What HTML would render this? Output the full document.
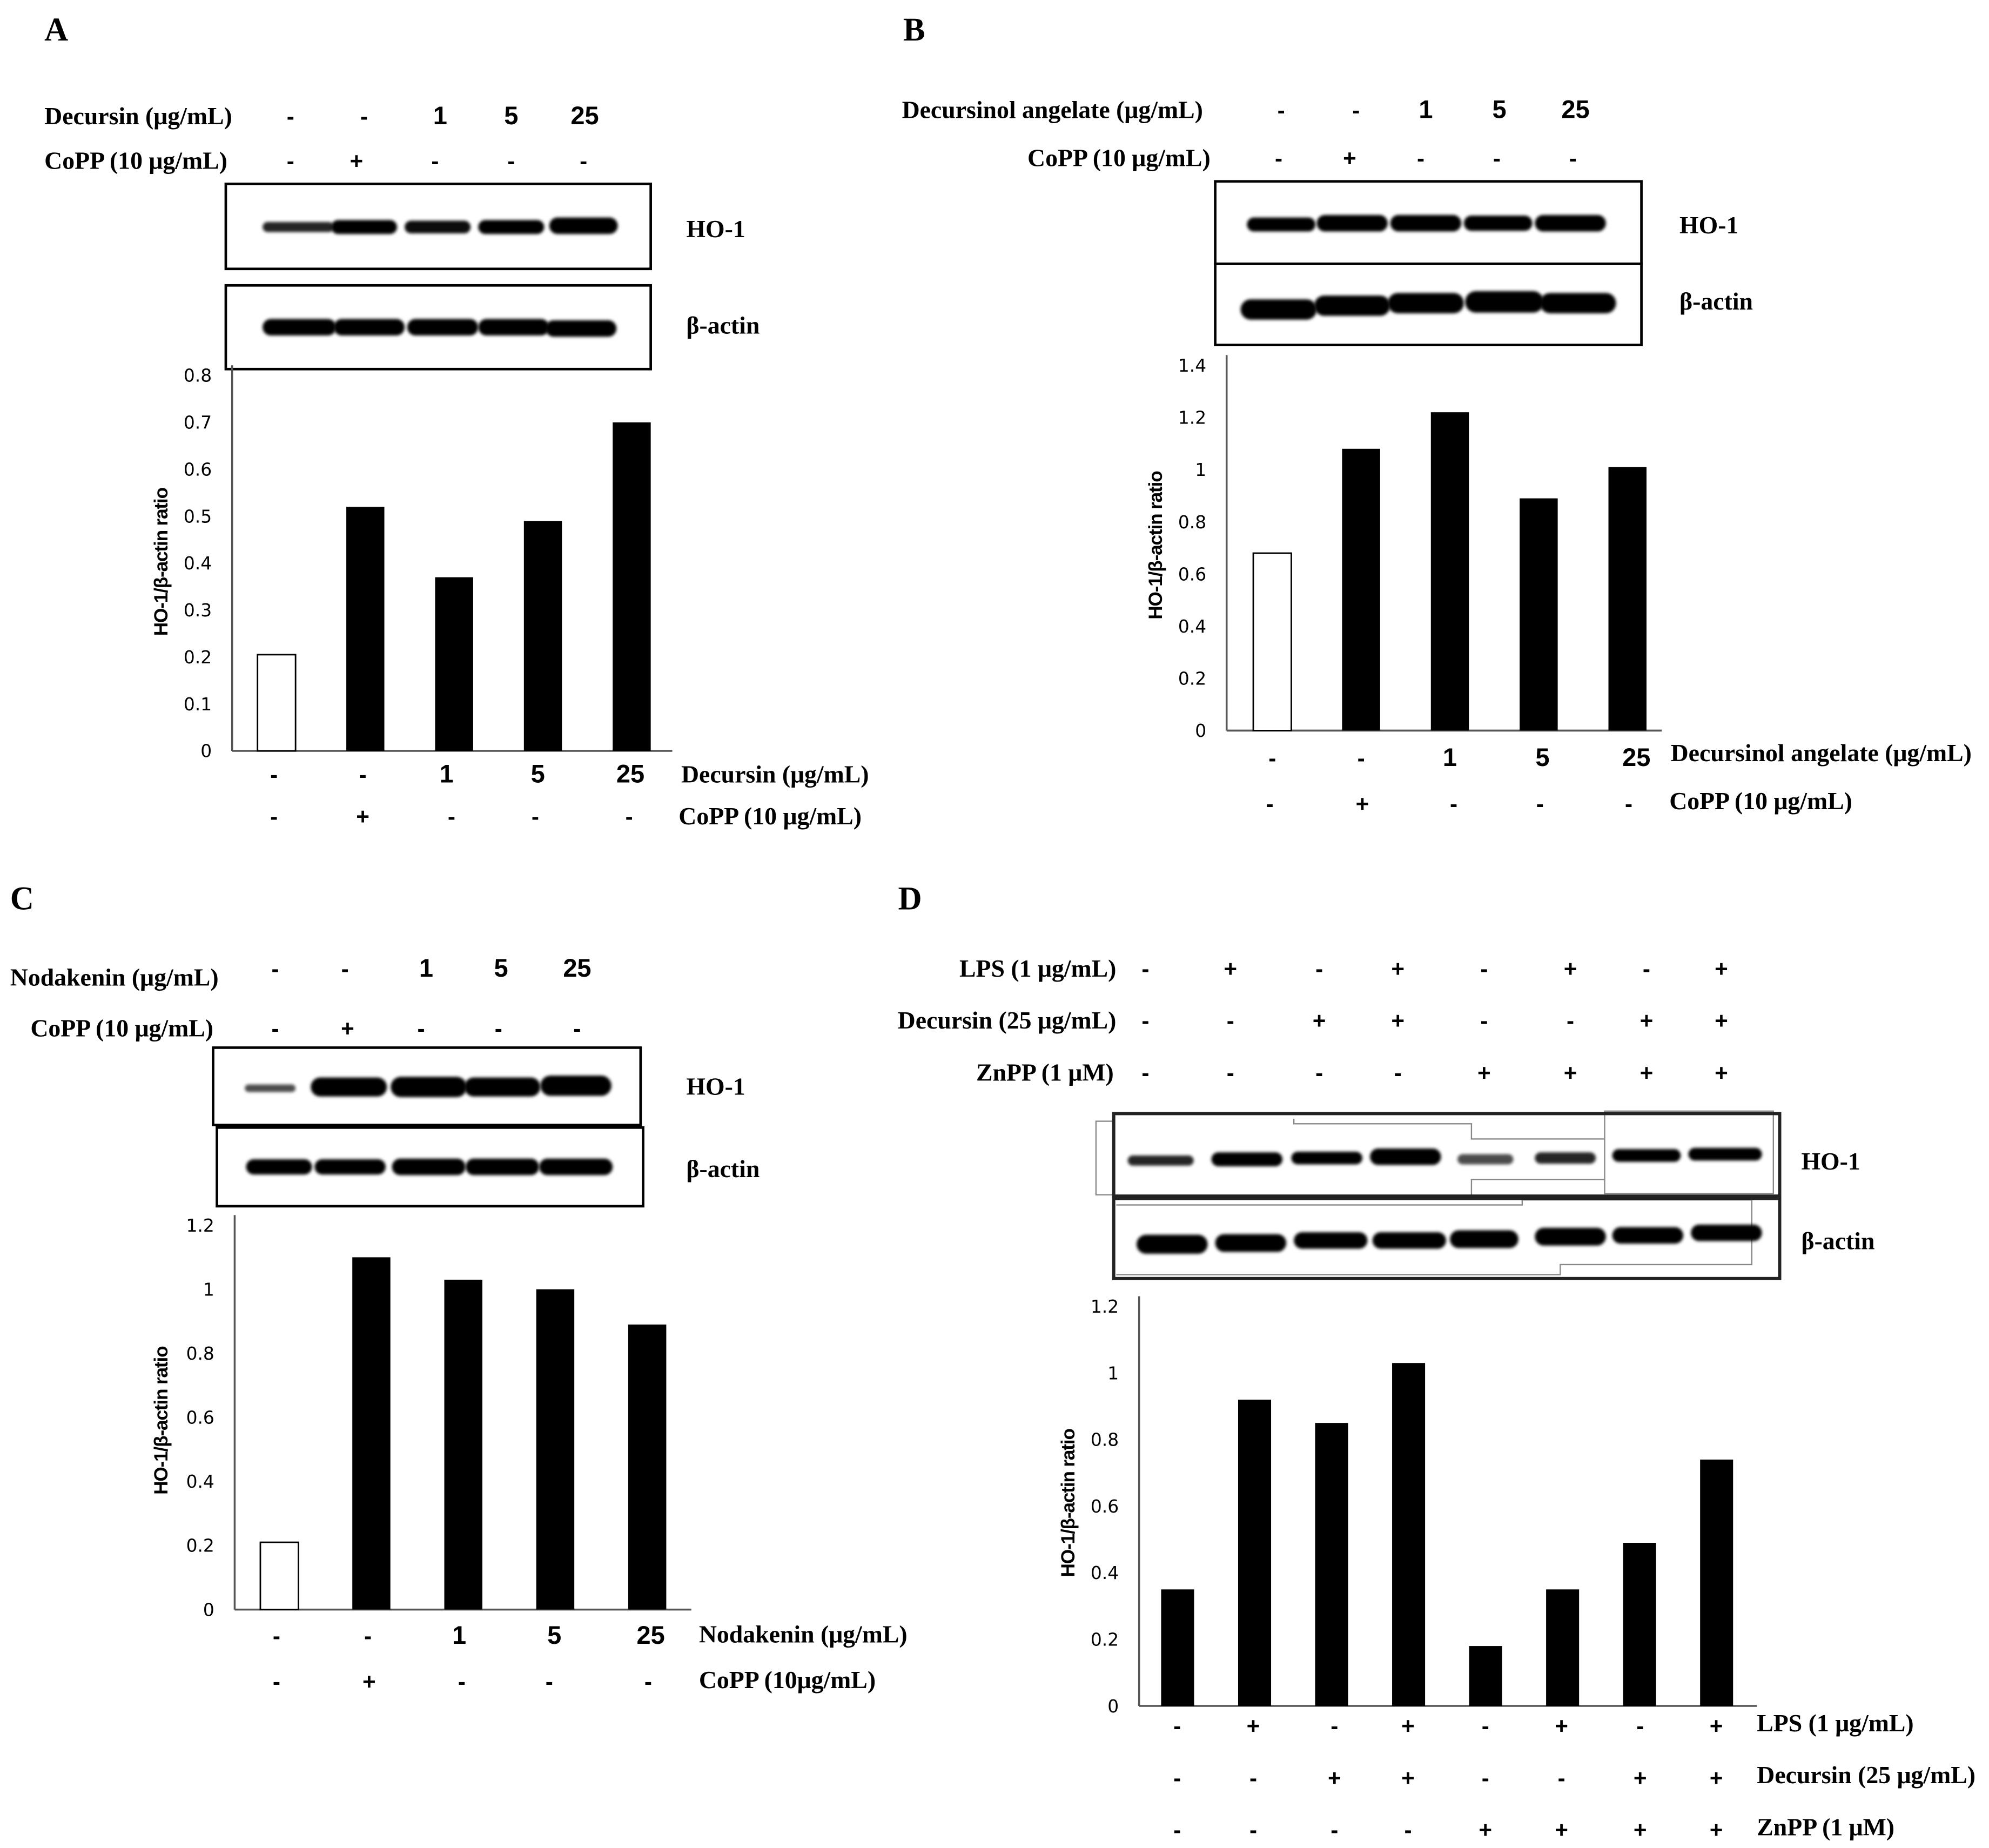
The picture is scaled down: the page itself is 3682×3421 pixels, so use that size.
<!DOCTYPE html>
<html><head><meta charset="utf-8"><style>
html,body{margin:0;padding:0;background:#fff;}
svg{display:block;}
.hd{font-family:"Liberation Serif",serif;font-weight:bold;font-size:19.5px;}
.num{font-family:"Liberation Sans",sans-serif;font-weight:bold;font-size:20px;text-anchor:middle;}
.sg{font-family:"Liberation Sans",sans-serif;font-weight:bold;font-size:18px;text-anchor:middle;}
.tk{font-family:"DejaVu Sans",sans-serif;font-size:14px;text-anchor:end;}
.yt{font-family:"Liberation Sans",sans-serif;font-weight:bold;font-size:15px;text-anchor:middle;letter-spacing:-0.5px;}
.pl{font-family:"Liberation Serif",serif;font-weight:bold;font-size:26px;}
</style></head><body>
<svg id="fig" width="3682" height="3421" viewBox="0 0 1568 1457" preserveAspectRatio="none" xmlns="http://www.w3.org/2000/svg">
<defs><filter id="bl" x="-10%" y="-50%" width="120%" height="200%"><feGaussianBlur stdDeviation="1.2"/></filter></defs>
<g id="root"></g>
</svg>
<script>
// ---- data ----
const catsA = ["-","-","1","5","25"];
const coppA = ["-","+","-","-","-"];
const valsA = [0.205, 0.52, 0.37, 0.49, 0.70];
const ticksA = [0,0.1,0.2,0.3,0.4,0.5,0.6,0.7,0.8];

const catsB = ["-","-","1","5","25"];
const coppB = ["-","+","-","-","-"];
const valsB = [0.68, 1.08, 1.22, 0.89, 1.01];
const ticksB = [0,0.2,0.4,0.6,0.8,1,1.2,1.4];

const catsC = ["-","-","1","5","25"];
const coppC = ["-","+","-","-","-"];
const valsC = [0.21, 1.10, 1.03, 1.00, 0.89];
const ticksC = [0,0.2,0.4,0.6,0.8,1,1.2];

const lpsD = ["-","+","-","+","-","+","-","+"];
const decD = ["-","-","+","+","-","-","+","+"];
const znD  = ["-","-","-","-","+","+","+","+"];
const valsD = [0.35, 0.92, 0.85, 1.03, 0.18, 0.35, 0.49, 0.74];
const ticksD = [0,0.2,0.4,0.6,0.8,1,1.2];

const NS="http://www.w3.org/2000/svg";
const root=document.getElementById('root');
function mk(tag,attrs,parent,text){const e=document.createElementNS(NS,tag);for(const k in attrs)e.setAttribute(k,attrs[k]);if(text!==undefined)e.textContent=text;(parent||root).appendChild(e);return e;}
function txt(x,y,s,cls,name,anchor){const t=mk('text',{x:x,y:y,class:cls},root,s);if(anchor)t.setAttribute('text-anchor',anchor);
return t;}
function sign(x,y,s,name){const t=txt(x,y,s,(s==="-"||s==="+")?"sg":"num",name);return t;}

function chart(o){
  const g=mk('g',{});
  
  
  const maxv=o.ticks[o.ticks.length-1];
  const yS=v=>o.y0-(o.y0-o.yTop)*v/maxv;
  const xS=i=>o.x0+o.gap*(i+0.5);
  mk('line',{x1:o.ax,y1:o.yTop-8,x2:o.ax,y2:o.y0,stroke:'#555','stroke-width':1.5},g);
  mk('line',{x1:o.ax,y1:o.y0,x2:o.xEnd,y2:o.y0,stroke:'#555','stroke-width':1.5},g);
  o.ticks.forEach(t=>{const e=mk('text',{x:o.ax-16,y:yS(t)+5,class:'tk'},g,String(t));
    
    });
  o.vals.forEach((v,i)=>{const white=o.white&&i===0;
    const r=mk('rect',{x:xS(i)-o.bw/2,y:yS(v),width:o.bw,height:o.y0-yS(v),fill:white?'#fff':'#000',stroke:'#000','stroke-width':white?1.2:0},g);
    
    });
  const yt=mk('text',{x:0,y:0,class:'yt',transform:`translate(${o.ytx},${o.yty}) rotate(-90)`},g,o.ytitle);
  
  
  return xS;
}
function band(cx,cy,w,h,op){const e=mk('rect',{x:cx-w/2,y:cy-h/2,width:w,height:h,rx:h/2,fill:'#000',opacity:op,filter:'url(#bl)'});

}
function box(x,y,w,h,sw,col){const e=mk('rect',{x:x,y:y,width:w,height:h,fill:'none',stroke:col||'#000','stroke-width':sw||2});

}

// ---- Panel A ----
txt(35,32,"A","pl","panel-label-a");
txt(35,98,"Decursin (μg/mL)","hd","header-decursin-a");
txt(35,133,"CoPP (10 μg/mL)","hd","header-copp-a");
[229,287,347,403,461].forEach((x,i)=>sign(x,98,catsA[i],"header-dose-a"));
[229,281,343,403,460].forEach((x,i)=>sign(x,133,coppA[i],"header-copp-sign-a"));
box(178,145,335,67);box(178,225,335,66);
[[235,179,56,8,.85],[287,179,52,11,1],[345,179,52,10,.95],[403,179,52,11,1],[460,178,54,13,1]].forEach(b=>band(...b));
[[236,258,58,13,1],[291,258,56,13,1],[349,258,56,13,1],[405,258,56,13,1],[458,259,56,13,1]].forEach(b=>band(...b));
txt(541,187,"HO-1","hd","label-ho1-a");txt(541,263,"β-actin","hd","label-bactin-a");
chart({name:'chart-a',vals:valsA,ticks:ticksA,ax:183,x0:183,gap:70,bw:30,y0:592,yTop:296,xEnd:530,white:true,ytx:132,yty:443,ytitle:"HO-1/β-actin ratio"});
[216,286,352,424,497].forEach((x,i)=>sign(x,617,catsA[i],"x-dose-a"));
[216,286,356,422,496].forEach((x,i)=>sign(x,650,coppA[i],"x-copp-a"));
txt(537,617,"Decursin (μg/mL)","hd","x-label-decursin-a");
txt(535,650,"CoPP (10 μg/mL)","hd","x-label-copp-a");

// ---- Panel B ----
txt(712,32,"B","pl","panel-label-b");
txt(711,93,"Decursinol angelate (μg/mL)","hd","header-da-b");
txt(810,131,"CoPP (10 μg/mL)","hd","header-copp-b");
[1010,1069,1124,1182,1242].forEach((x,i)=>sign(x,93,catsB[i],"header-dose-b"));
[1008,1064,1120,1180,1240].forEach((x,i)=>sign(x,131,coppB[i],"header-copp-sign-b"));
box(958,143,336,65);box(958,208,336,64);
[[1010,177,54,11,1],[1066,176,56,13,1],[1124,176,56,13,1],[1181,176,54,12,1],[1238,176,56,13,1]].forEach(b=>band(...b));
[[1008,244,60,16,1],[1066,241,60,16,1],[1124,239,60,16,1],[1186,238,62,17,1],[1244,239,60,16,1]].forEach(b=>band(...b));
txt(1324,184,"HO-1","hd","label-ho1-b");txt(1324,244,"β-actin","hd","label-bactin-b");
chart({name:'chart-b',vals:valsB,ticks:ticksB,ax:967,x0:968,gap:70,bw:30,y0:576,yTop:288,xEnd:1310,white:true,ytx:916,yty:430,ytitle:"HO-1/β-actin ratio"});
[1003,1073,1143,1216,1290].forEach((x,i)=>sign(x,604,catsB[i],"x-dose-b"));
[1001,1074,1146,1214,1284].forEach((x,i)=>sign(x,640,coppB[i],"x-copp-b"));
txt(1317,600,"Decursinol angelate (μg/mL)","hd","x-label-da-b");
txt(1316,638,"CoPP (10 μg/mL)","hd","x-label-copp-b");

// ---- Panel C ----
txt(8,717,"C","pl","panel-label-c");
txt(8,777,"Nodakenin (μg/mL)","hd","header-noda-c");
txt(24,817,"CoPP (10 μg/mL)","hd","header-copp-c");
[217,272,336,395,455].forEach((x,i)=>sign(x,770,catsC[i],"header-dose-c"));
[217,274,332,393,455].forEach((x,i)=>sign(x,817,coppC[i],"header-copp-sign-c"));
box(168,826,337,61);box(171,889,336,62);
[[213,858,40,6,.7],[275,857,60,15,1],[338,857,60,16,1],[396,857,60,15,1],[454,856,56,16,1]].forEach(b=>band(...b));
[[220,920,52,12,1],[276,920,56,12,1],[338,920,58,13,1],[396,920,58,13,1],[454,920,58,13,1]].forEach(b=>band(...b));
txt(541,863,"HO-1","hd","label-ho1-c");txt(541,928,"β-actin","hd","label-bactin-c");
chart({name:'chart-c',vals:valsC,ticks:ticksC,ax:185,x0:184,gap:72.5,bw:30,y0:1269,yTop:966,xEnd:545,white:true,ytx:132,yty:1120,ytitle:"HO-1/β-actin ratio"});
[218,290,362,437,513].forEach((x,i)=>sign(x,1296,catsC[i],"x-dose-c"));
[218,291,364,433,511].forEach((x,i)=>sign(x,1332,coppC[i],"x-copp-c"));
txt(551,1295,"Nodakenin (μg/mL)","hd","x-label-noda-c");
txt(551,1331,"CoPP (10μg/mL)","hd","x-label-copp-c");

// ---- Panel D ----
txt(708,717,"D","pl","panel-label-d");
txt(880,770,"LPS (1 μg/mL)","hd","header-lps-d","end");
txt(880,811,"Decursin (25 μg/mL)","hd","header-dec-d","end");
txt(878,852,"ZnPP (1 μM)","hd","header-znpp-d","end");
const hx=[903,970,1040,1102,1170,1238,1298,1357];
hx.forEach((x,i)=>sign(x,770,lpsD[i],"header-lps-sign"));
hx.forEach((x,i)=>sign(x,811,decD[i],"header-dec-sign"));
hx.forEach((x,i)=>sign(x,852,znD[i],"header-znpp-sign"));
mk('polyline',{points:"878,884 864,884 864,942 878,942",fill:'none',stroke:'#888','stroke-width':1});
mk('polyline',{points:"1020,882 1020,886 1160,886 1160,898 1265,898",fill:'none',stroke:'#888','stroke-width':1});
mk('polyline',{points:"1160,943 1160,930 1265,930",fill:'none',stroke:'#888','stroke-width':1});
mk('rect',{x:1265,y:876,width:133,height:65,fill:'none',stroke:'#888','stroke-width':1});
mk('polyline',{points:"880,950 1200,950 1200,946 1381,946 1381,997 1230,997 1230,1005 880,1005",fill:'none',stroke:'#888','stroke-width':1});
box(878,878,525,65,2.5,'#222');box(878,945,525,63,2.5,'#222');
[[915,915,52,8,.85],[983,914,56,11,1],[1046,913,56,10,1],[1108,912,56,13,1],[1171,914,44,8,.7],[1234,913,48,9,.85],[1298,911,54,10,1],[1360,910,58,10,1]].forEach(b=>band(...b));
[[924,981,56,15,1],[986,980,56,14,1],[1049,978,58,13,1],[1111,978,58,13,1],[1170,977,54,14,1],[1238,975,56,14,1],[1299,974,56,13,1],[1361,972,56,13,1]].forEach(b=>band(...b));
txt(1420,922,"HO-1","hd","label-ho1-d");txt(1420,985,"β-actin","hd","label-bactin-d");
chart({name:'chart-d',vals:valsD,ticks:ticksD,ax:898,x0:898,gap:60.7,bw:26,y0:1345,yTop:1030,xEnd:1385,white:false,ytx:847,yty:1185,ytitle:"HO-1/β-actin ratio"});
const bx=[928,988,1052,1110,1171,1231,1293,1353];
bx.forEach((x,i)=>sign(x,1367,lpsD[i],"x-lps-sign"));
bx.forEach((x,i)=>sign(x,1408,decD[i],"x-dec-sign"));
bx.forEach((x,i)=>sign(x,1449,znD[i],"x-znpp-sign"));
txt(1385,1365,"LPS (1 μg/mL)","hd","x-label-lps-d");
txt(1385,1406,"Decursin (25 μg/mL)","hd","x-label-dec-d");
txt(1385,1447,"ZnPP (1 μM)","hd","x-label-znpp-d");
</script>
</body></html>
